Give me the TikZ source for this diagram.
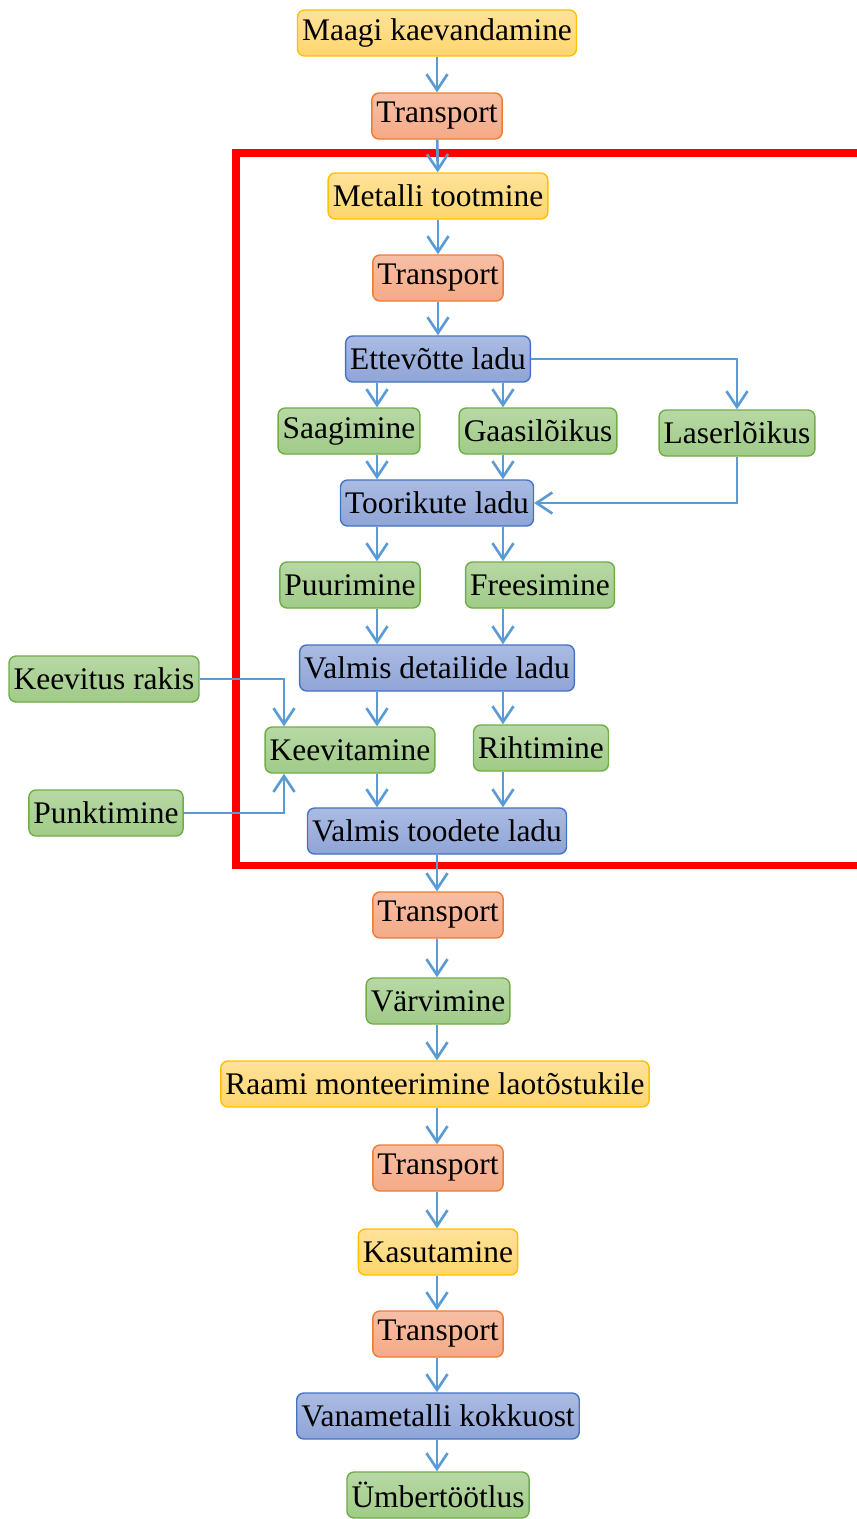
\documentclass[tikz,border=0pt]{standalone}
\usepackage{fontspec}
\setmainfont{Liberation Serif}
\usetikzlibrary{arrows.meta,positioning,calc}
\definecolor{flowBlue}{RGB}{91,155,213}
\definecolor{frameRed}{RGB}{255,0,0}
\definecolor{mineEdge}{RGB}{255,192,0}
\definecolor{mineFill}{RGB}{255,214,110}
\definecolor{moveEdge}{RGB}{237,125,49}
\definecolor{moveFill}{RGB}{245,170,135}
\definecolor{storeEdge}{RGB}{68,114,196}
\definecolor{storeFill}{RGB}{143,165,216}
\definecolor{workEdge}{RGB}{112,173,71}
\definecolor{workFill}{RGB}{160,203,135}

\begin{document}
\begin{tikzpicture}[
  x=0.02cm, y=-0.02cm,
  % ── boxes ──
  box/.style={rectangle, rounded corners=4pt, minimum height=0.92cm,
              inner xsep=2.6pt, inner ysep=1pt, line width=0.8pt,
              font=\fontsize{17.9}{20}\selectfont},
  minebox/.style={box, draw=mineEdge, top color=mineFill!70!white, bottom color=mineFill},
  movebox/.style={box, draw=moveEdge, top color=moveFill!75!white, bottom color=moveFill},
  storebox/.style={box, draw=storeEdge, top color=storeFill!75!white, bottom color=storeFill},
  workbox/.style={box, draw=workEdge, top color=workFill!75!white, bottom color=workFill},
  % ── arrows ──
  arr/.style={-{Straight Barb[length=9pt,width=12pt]}, line width=1.5pt, flowBlue},
]
\useasboundingbox (0,0) rectangle (857,1519);

%% ─── column helpers ────────────────────────────────────────────
\coordinate (colM) at (437,0);   % main column
\coordinate (colL) at (377,0);   % left branch
\coordinate (colR) at (503,0);   % right branch
\coordinate (colK) at (284,0);   % welding inputs

%% ─── 1. Company frame ─────────────────────────────────────────
\draw[frameRed, line width=4pt] (870,153) -- (236,153) -- (236,865) -- (870,865);

%% ─── 2. Main column ───────────────────────────────────────────
\node[minebox]  (maak)    at (437,33)   {Maagi kaevandamine};
\node[movebox]  (trA)     at (437,116)  {Transport};
\node[minebox]  (metall)  at (438,196)  {Metalli tootmine};
\node[movebox]  (trB)     at (438,278)  {Transport};
\node[storebox] (ladu)    at (438,359)  {Ettevõtte ladu};

%% ─── 3. Cutting ───────────────────────────────────────────────
\node[workbox]  (saag)    at (349,431)  {Saagimine};
\node[workbox]  (gaas)    at (538,431)  {Gaasilõikus};
\node[workbox]  (laser)   at (737,433)  {Laserlõikus};
\node[storebox] (toor)    at (437,503)  {Toorikute ladu};

%% ─── 4. Machining ─────────────────────────────────────────────
\node[workbox]  (puur)    at (350,585)  {Puurimine};
\node[workbox]  (frees)   at (540,585)  {Freesimine};
\node[storebox] (detail)  at (437,668)  {Valmis detailide ladu};

%% ─── 5. Welding / straightening ───────────────────────────────
\node[workbox]  (rakis)   at (104,679)  {Keevitus rakis};
\node[workbox]  (keev)    at (350,750)  {Keevitamine};
\node[workbox]  (riht)    at (541,748)  {Rihtimine};
\node[workbox]  (punkt)   at (106,813)  {Punktimine};
\node[storebox] (toode)   at (437,831)  {Valmis toodete ladu};

%% ─── 6. After the company ─────────────────────────────────────
\node[movebox]  (trC)     at (438,915)  {Transport};
\node[workbox]  (varv)    at (438,1001) {Värvimine};
\node[minebox]  (raam)    at (435,1084) {Raami monteerimine laotõstukile};
\node[movebox]  (trD)     at (438,1168) {Transport};
\node[minebox]  (kasut)   at (438,1252) {Kasutamine};
\node[movebox]  (trE)     at (438,1334) {Transport};
\node[storebox] (vana)    at (438,1416) {Vanametalli kokkuost};
\node[workbox]  (umber)   at (438,1495) {Ümbertöötlus};

%% ─── 7. Connectors ────────────────────────────────────────────
\draw[arr] (maak)  -- (trA);
\draw[arr] (trA)   -- (metall);
\draw[arr] (metall) -- (trB);
\draw[arr] (trB)   -- (ladu);

\draw[arr] (ladu.south -| colL) -- (saag.north -| colL);
\draw[arr] (ladu.south -| colR) -- (gaas.north -| colR);
\draw[arr] (ladu.east) -| (laser.north);
\draw[arr] (saag.south -| colL) -- (toor.north -| colL);
\draw[arr] (gaas.south -| colR) -- (toor.north -| colR);
\draw[arr] (laser.south) |- (toor.east);

\draw[arr] (toor.south -| colL) -- (puur.north -| colL);
\draw[arr] (toor.south -| colR) -- (frees.north -| colR);
\draw[arr] (puur.south -| colL) -- (detail.north -| colL);
\draw[arr] (frees.south -| colR) -- (detail.north -| colR);

\draw[arr] (detail.south -| colL) -- (keev.north -| colL);
\draw[arr] (detail.south -| colR) -- (riht.north -| colR);
\draw[arr] (rakis.east) -| (keev.north -| colK);
\draw[arr] (punkt.east) -| (keev.south -| colK);
\draw[arr] (keev.south -| colL) -- (toode.north -| colL);
\draw[arr] (riht.south -| colR) -- (toode.north -| colR);

\draw[arr] (toode.south -| colM) -- (trC.north -| colM);
\draw[arr] (trC.south -| colM)   -- (varv.north -| colM);
\draw[arr] (varv.south -| colM)  -- (raam.north -| colM);
\draw[arr] (raam.south -| colM)  -- (trD.north -| colM);
\draw[arr] (trD.south -| colM)   -- (kasut.north -| colM);
\draw[arr] (kasut.south -| colM) -- (trE.north -| colM);
\draw[arr] (trE.south -| colM)   -- (vana.north -| colM);
\draw[arr] (vana.south -| colM)  -- (umber.north -| colM);

\end{tikzpicture}
\end{document}
